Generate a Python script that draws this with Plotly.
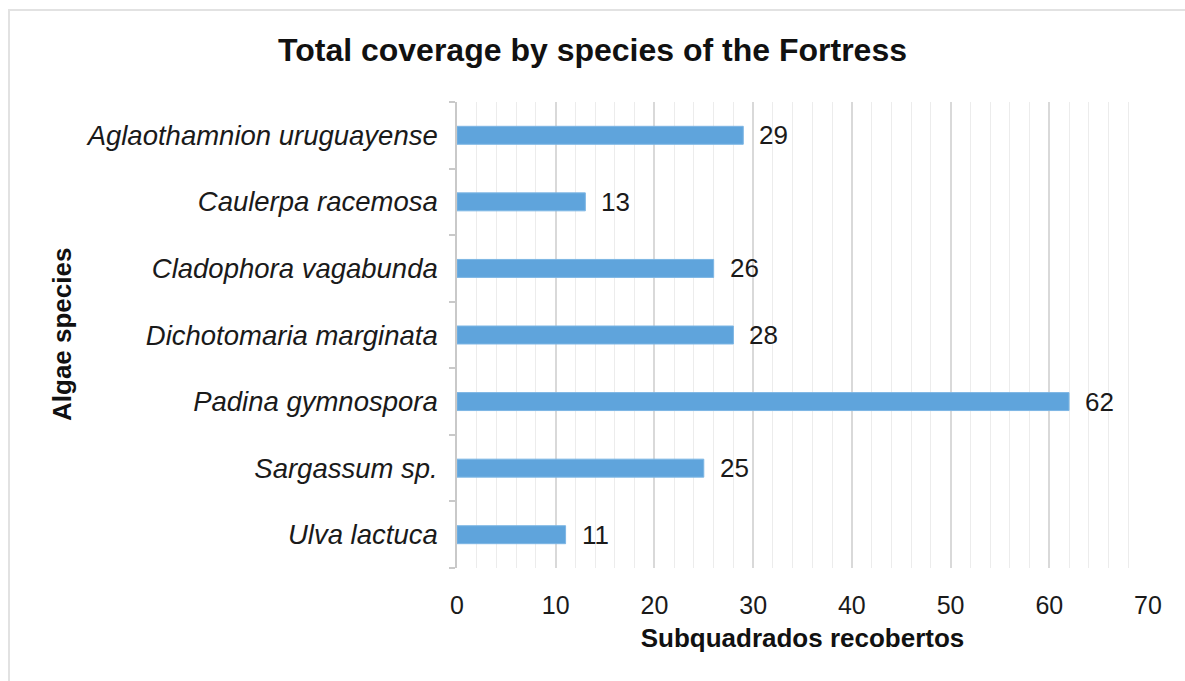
import plotly.graph_objects as go

# Algae species (top to bottom) and number of covered sub-quadrats
species = [
    "Aglaothamnion uruguayense",
    "Caulerpa racemosa",
    "Cladophora vagabunda",
    "Dichotomaria marginata",
    "Padina gymnospora",
    "Sargassum sp.",
    "Ulva lactuca",
]
coverage = [29, 13, 26, 28, 62, 25, 11]

x_ticks = [0, 10, 20, 30, 40, 50, 60, 70]

FONT = "Liberation Sans, Arial, Helvetica, sans-serif"
BAR = "#5fa4dc"

fig = go.Figure()
fig.add_trace(go.Bar(
    x=coverage,
    y=species,
    orientation="h",
    width=0.27,
    marker=dict(color=BAR, line=dict(color="#7db6e4", width=1)),
    hoverinfo="x+y",
))

# value labels to the right of each bar
for s, v in zip(species, coverage):
    fig.add_annotation(
        x=v, y=s, xref="x", yref="y",
        text=str(v), showarrow=False,
        xanchor="left", yanchor="middle", xshift=14,
        font=dict(family=FONT, size=26, color="#1a1a1a"),
    )

# plot-area geometry in pixels
L, R, T, B = 457, 37, 102, 113
W, H = 1185, 681
pw, ph = W - L - R, H - T - B
def px(xp):
    return (xp - L) / pw
def py(yp):
    return (H - B - yp) / ph

# light frame around the whole figure
fig.add_shape(
    type="rect", xref="paper", yref="paper",
    x0=px(9), x1=px(1195), y0=py(10), y1=py(700),
    line=dict(color="#e2e2e2", width=2), fillcolor="rgba(0,0,0,0)",
    layer="below",
)

# vertical axis title
fig.add_annotation(
    x=px(62), y=0.5, xref="paper", yref="paper",
    text="<b>Algae species</b>", textangle=-90, showarrow=False,
    xanchor="center", yanchor="middle",
    font=dict(family=FONT, size=26, color="#111111"),
)

fig.update_layout(
    width=W, height=H,
    margin=dict(l=L, r=R, t=T, b=B, pad=0),
    paper_bgcolor="white",
    plot_bgcolor="white",
    showlegend=False,
    title=dict(
        text="<b>Total coverage by species of the Fortress</b>",
        x=0.5, xanchor="center", xref="container",
        y=1 - 50 / H, yanchor="middle",
        font=dict(family=FONT, size=32, color="#111111"),
    ),
    font=dict(family=FONT, color="#1a1a1a"),
)

fig.update_xaxes(
    range=[0, 70],
    tickvals=x_ticks,
    ticktext=[str(t) for t in x_ticks],
    showgrid=True, gridcolor="#d9d9d9", gridwidth=1.5,
    minor=dict(dtick=2, showgrid=True, gridcolor="#ececec", gridwidth=1.2),
    showline=False, zeroline=False, ticks="",
    ticklabelstandoff=20,
    tickfont=dict(family=FONT, size=25, color="#1a1a1a"),
    title=dict(text="<b>Subquadrados recobertos</b>",
               font=dict(family=FONT, size=26, color="#111111"), standoff=10),
    fixedrange=True,
)

fig.update_yaxes(
    categoryorder="array", categoryarray=species[::-1],
    showgrid=False, zeroline=False,
    showline=True, linecolor="#c9c9c9", linewidth=1.5,
    ticks="outside", tickson="boundaries", ticklen=6, tickcolor="#c9c9c9", tickwidth=1.5,
    ticklabelstandoff=12,
    tickfont=dict(family=FONT, size=27.5, color="#1a1a1a", style="italic"),
    fixedrange=True,
)

fig.write_html("out.html")
